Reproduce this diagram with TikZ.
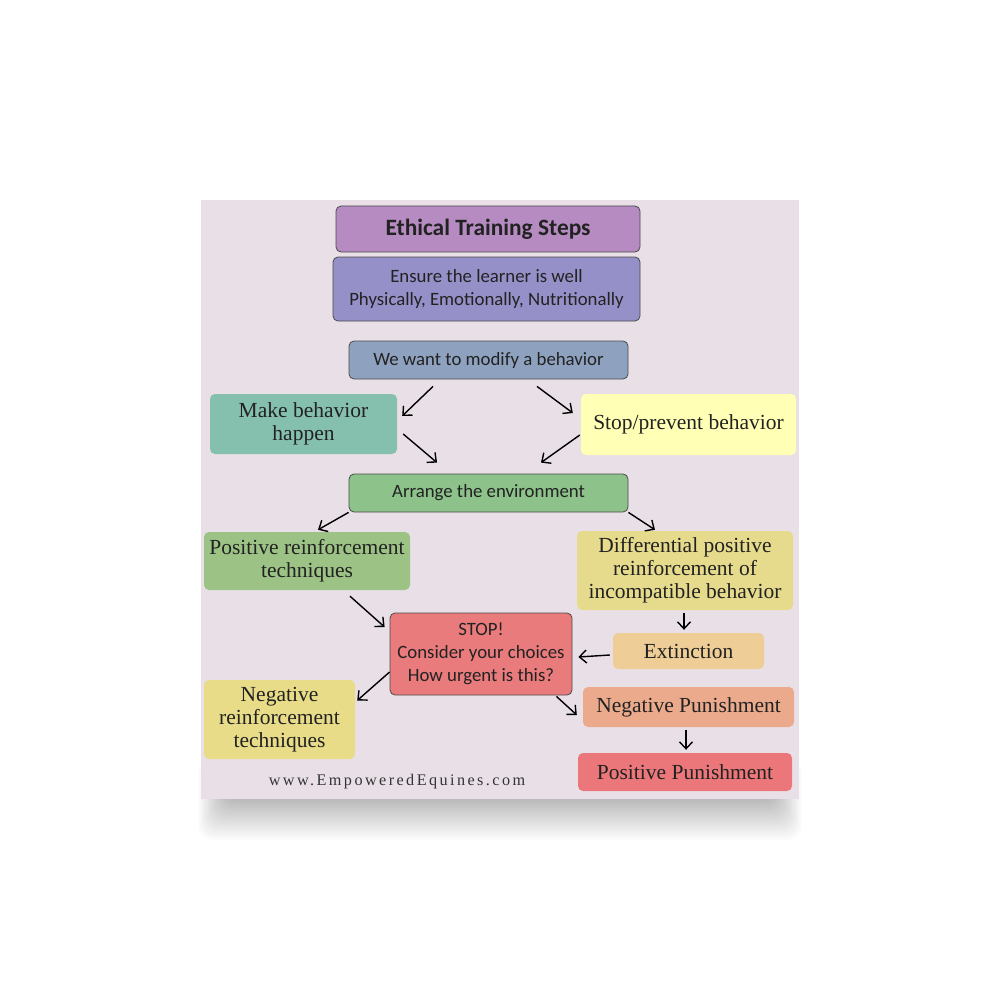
\documentclass[tikz,border=0pt]{standalone}
\usepackage{fontspec}
\usetikzlibrary{arrows.meta,calc}
\newfontfamily\sansf{Carlito}
\newfontfamily\seriff{Liberation Serif}
\newfontfamily\urlf[LetterSpace=15]{Liberation Serif}
\definecolor{posterbg}{HTML}{E9E0E7}
\definecolor{txt}{HTML}{222222}
\definecolor{edge}{HTML}{4A4A4A}
\definecolor{cTitle}{HTML}{B68BC1}
\definecolor{cEnsure}{HTML}{9590C8}
\definecolor{cModify}{HTML}{8EA2BF}
\definecolor{cMake}{HTML}{85C0AE}
\definecolor{cStopPrev}{HTML}{FFFFB5}
\definecolor{cArrange}{HTML}{8DC28B}
\definecolor{cPosReinf}{HTML}{9CC385}
\definecolor{cDiff}{HTML}{E6DB8C}
\definecolor{cStop}{HTML}{EA7B7C}
\definecolor{cExt}{HTML}{EECD96}
\definecolor{cNegReinf}{HTML}{E8DC88}
\definecolor{cNegPun}{HTML}{EBAA8C}
\definecolor{cPosPun}{HTML}{EC777A}
\begin{document}
\begin{tikzpicture}[x=1pt,y=-1pt,
  boxbase/.style={rounded corners=5pt, inner sep=0pt, align=center, text=txt},
  sbox/.style={boxbase, draw=edge, line width=0.8pt, font=\sansf\fontsize{18.8}{23}\selectfont},
  serbox/.style={boxbase, font=\seriff\fontsize{21.5}{23}\selectfont},
  arr/.style={line width=1.4pt, black, -{Straight Barb[length=7pt,width=13pt,line width=1.4pt]}}
]
\useasboundingbox (0,0) rectangle (1000,1000);
\fill[white] (0,0) rectangle (1000,1000);
% shadow
\foreach \i in {1,...,24}{
  \fill[black,opacity=0.013,rounded corners=14pt] (197+1.2*\i,760) rectangle (803-1.2*\i,842-1.8*\i);
}
\fill[posterbg] (201,200) rectangle (799,799);

% nodes
\node[sbox, fill=cTitle, minimum width=304pt, minimum height=46pt, font=\sansf\bfseries\fontsize{23.4}{26}\selectfont] (title) at (488,229) {Ethical Training Steps};
\node[sbox, fill=cEnsure, minimum width=307pt, minimum height=64pt] (ensure) at (486.5,289) {Ensure the learner is well\\Physically, Emotionally, Nutritionally};
\node[sbox, fill=cModify, minimum width=279pt, minimum height=38pt] (modify) at (488.5,360) {We want to modify a behavior};
\node[serbox, fill=cMake, minimum width=187pt, minimum height=60pt] (make) at (303.5,424) {Make behavior\\happen};
\node[serbox, fill=cStopPrev, minimum width=215pt, minimum height=61pt] (stopprev) at (688.5,424.5) {Stop/prevent behavior};
\node[sbox, fill=cArrange, minimum width=279pt, minimum height=38pt] (arrange) at (488.5,493) {Arrange the environment};
\node[serbox, fill=cPosReinf, minimum width=206pt, minimum height=58pt] (posreinf) at (307,561) {Positive reinforcement\\techniques};
\node[serbox, fill=cDiff, minimum width=216pt, minimum height=79pt] (diff) at (685,570.5) {Differential positive\\reinforcement of\\incompatible behavior};
\node[sbox, fill=cStop, minimum width=182pt, minimum height=82pt] (stop) at (481,654) {STOP!\\Consider your choices\\How urgent is this?};
\node[serbox, fill=cExt, minimum width=151pt, minimum height=36pt] (ext) at (688.5,651) {Extinction};
\node[serbox, fill=cNegReinf, minimum width=151pt, minimum height=79pt] (negreinf) at (279.5,719.5) {Negative\\reinforcement\\techniques};
\node[serbox, fill=cNegPun, minimum width=211pt, minimum height=40pt] (negpun) at (688.5,707) {Negative Punishment};
\node[serbox, fill=cPosPun, minimum width=214pt, minimum height=38pt] (pospun) at (685,772) {Positive Punishment};
\node[text=txt!92, font=\urlf\fontsize{16.2}{18}\selectfont] (url) at (397,782) {www.EmpoweredEquines.com};

% connectors
\draw[arr] ([shift={(-55.5,7)}]modify.south) -- ([shift={(5,-8)}]make.east);
\draw[arr] ([shift={(48.5,7)}]modify.south) -- ([shift={(-8,-11.5)}]stopprev.west);
\draw[arr] ([shift={(6,10)}]make.east) -- ([shift={(-51.5,-11)}]arrange.north);
\draw[arr] ([shift={(-1,10.5)}]stopprev.west) -- ([shift={(52.5,-11)}]arrange.north);
\draw[arr] (arrange.south west) -- ([shift={(11,-2)}]posreinf.north);
\draw[arr] (arrange.south east) -- ([shift={(-30,-1)}]diff.north);
\draw[arr] ([shift={(43,6)}]posreinf.south) -- ([shift={(-5,-27)}]stop.west);
\draw[arr] ([shift={(-1,3)}]diff.south) -- ([shift={(-4.5,-3)}]ext.north);
\draw[arr] ([shift={(-3,4)}]ext.west) -- ([shift={(6,3)}]stop.east);
\draw[arr] ([shift={(0,18)}]stop.west) -- ([shift={(2,-19)}]negreinf.east);
\draw[arr] ([shift={(-16,1)}]stop.south east) -- ([shift={(-6,8)}]negpun.west);
\draw[arr] ([shift={(-2.5,3)}]negpun.south) -- ([shift={(1,-3)}]pospun.north);
\end{tikzpicture}
\end{document}
